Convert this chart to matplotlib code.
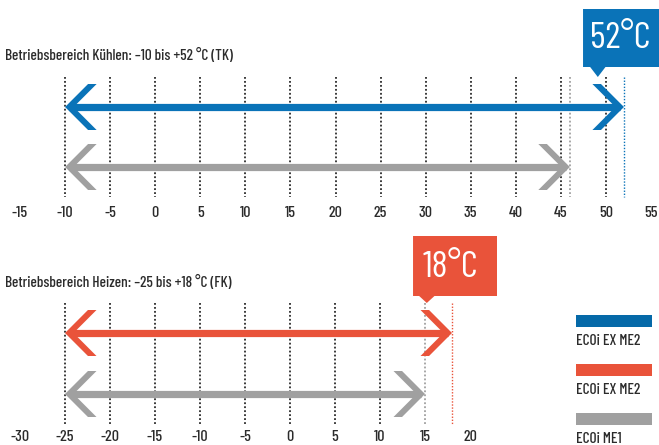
import matplotlib
matplotlib.use("Agg")
import matplotlib.pyplot as plt
from matplotlib.patches import Polygon, Rectangle

plt.rcParams["font.family"] = ["Barlow Condensed", "Roboto Condensed", "DejaVu Sans"]
plt.rcParams["font.weight"] = 500

# --- data -------------------------------------------------------------------
cool_ticks = list(range(-15, 56, 5))
cool_grid = list(range(-10, 51, 5))
cool_min = -10
cool_max_ex = 52      # ECOi EX ME2
cool_max_me1 = 46     # ECOi ME1

heat_ticks = list(range(-30, 21, 5))
heat_grid = list(range(-25, 11, 5))
heat_min = -25
heat_max_ex = 18      # ECOi EX ME2
heat_max_me1 = 15     # ECOi ME1

legend_labels = ["ECOi EX ME2", "ECOi EX ME2", "ECOi ME1"]

BLUE = "#0a73b8"
RED = "#e9533a"
GRAY = "#a0a0a0"
INK = "#2b2b2b"

W, H = 659, 445
fig = plt.figure(figsize=(W / 100, H / 100), dpi=100)


def px_axes(x0, x1, y0, y1):
    """Axes spanning pixel box (x0..x1, rows y0..y1 from top); y in pixel rows."""
    ax = fig.add_axes([x0 / W, 1 - y1 / H, (x1 - x0) / W, (y1 - y0) / H])
    ax.set_ylim(y1, y0)
    for s in ax.spines.values():
        s.set_visible(False)
    ax.set_yticks([])
    return ax


def arrow(ax, lo, hi, row, color, head_l=2.55, head_w=0.95, half_h=23):
    # shaft
    ax.plot([lo + head_w * 0.5, hi - head_w * 0.5], [row, row], color=color,
            lw=5.2, solid_capstyle="butt", zorder=3)
    # open chevron heads at both ends
    for tip, d in ((lo, 1), (hi, -1)):
        pts = [(tip, row), (tip + d * head_l, row - half_h),
               (tip + d * (head_l + head_w), row - half_h), (tip + d * head_w, row),
               (tip + d * (head_l + head_w), row + half_h), (tip + d * head_l, row + half_h)]
        ax.add_patch(Polygon(pts, closed=True, color=color, lw=0, zorder=3))


def callout(ax, x_l, x_r, top, bottom, tip_x, tip_y, color, text, text_x):
    pts = [(x_l, top), (x_r, top), (x_r, bottom), (tip_x + 0.85, bottom),
           (tip_x, tip_y), (tip_x - 0.85, bottom), (x_l, bottom)]
    ax.add_patch(Polygon(pts, closed=True, color=color, lw=0, clip_on=False, zorder=4))
    ax.text(text_x, (top + bottom) / 2 + 1, text, color="white", fontsize=27,
            fontweight=400, ha="center", va="center", zorder=5, clip_on=False)


def dotted(ax, xs, y0, y1, color, lw=1.3):
    ax.vlines(xs, y0, y1, colors=color, linestyles=(0, (1, 1.2)), lw=lw, zorder=2)


def ticks(ax, vals):
    ax.set_xticks(vals)
    ax.set_xticklabels([str(v) for v in vals], fontsize=11.5, color=INK)
    ax.tick_params(axis="x", length=0, pad=2)


# --- Kühlen -----------------------------------------------------------------
ax1 = px_axes(20, 651, 0, 203)
ax1.set_xlim(cool_ticks[0], cool_ticks[-1])
ticks(ax1, cool_ticks)
dotted(ax1, cool_grid, 77, 197, INK)
dotted(ax1, [cool_max_me1], 77, 197, GRAY)
dotted(ax1, [cool_max_ex], 77, 197, BLUE, lw=1.0)
arrow(ax1, cool_min, cool_max_ex, 107, BLUE)
arrow(ax1, cool_min, cool_max_me1, 167, GRAY)
callout(ax1, 47.46, 56.0, 9, 67, 49.1, 77, BLUE, f"{cool_max_ex}°C", 51.6)
fig.text(5 / W, 1 - 55 / H, "Betriebsbereich Kühlen: –10 bis +52 °C (TK)",
         fontsize=11, color=INK, va="center")

# --- Heizen -----------------------------------------------------------------
ax2 = px_axes(20, 470, 235, 427)
ax2.set_xlim(heat_ticks[0], heat_ticks[-1])
ticks(ax2, heat_ticks)
dotted(ax2, heat_grid, 303, 425, INK)
dotted(ax2, [heat_max_me1], 303, 425, GRAY)
dotted(ax2, [heat_max_ex], 303, 425, RED, lw=1.0)
arrow(ax2, heat_min, heat_max_ex, 333, RED)
arrow(ax2, heat_min, heat_max_me1, 394, GRAY)
callout(ax2, 13.67, 23.0, 236, 296, 15.2, 303, RED, f"{heat_max_ex}°C", 17.8)
fig.text(5 / W, 1 - 282 / H, "Betriebsbereich Heizen: –25 bis +18 °C (FK)",
         fontsize=11, color=INK, va="center")

# --- legend -----------------------------------------------------------------
axl = px_axes(560, 659, 300, 445)
axl.set_xlim(560, 659)
axl.set_xticks([])
for i, (lab, col) in enumerate(zip(legend_labels, ["#0569a8", RED, GRAY])):
    top = 315 + i * 49
    axl.add_patch(Rectangle((576, top), 76, 12, color=col, lw=0))
    axl.text(576, top + 26, lab, fontsize=11, color=INK, va="center", ha="left")

fig.savefig("out.png", dpi=100)
